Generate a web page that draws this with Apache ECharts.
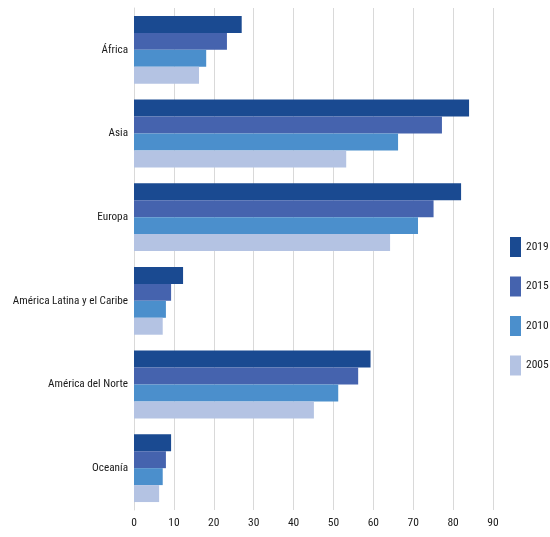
<!DOCTYPE html>
<html>
<head>
<meta charset="utf-8">
<script src="https://cdn.jsdelivr.net/npm/echarts@6/dist/echarts.min.js"></script>
<style>
  html, body { margin: 0; padding: 0; background: #ffffff; }
  #chart { width: 550px; height: 537px; }
</style>
</head>
<body>
<div id="chart"></div>
<script>
// Regions listed top to bottom
const regions = ['África', 'Asia', 'Europa', 'América Latina y el Caribe', 'América del Norte', 'Oceanía'];
const years = ['2019', '2015', '2010', '2005'];
const values2019 = [27, 84, 82, 12.3, 59.3, 9.3];
const values2015 = [23.3, 77.2, 75.1, 9.3, 56.2, 8.0];
const values2010 = [18.1, 66.2, 71.2, 8.0, 51.2, 7.2];
const values2005 = [16.3, 53.2, 64.2, 7.2, 45.1, 6.3];
const xTicks = [0, 10, 20, 30, 40, 50, 60, 70, 80, 90];

const seriesValues = [values2019, values2015, values2010, values2005];
const colors = ['#1a4a91', '#4563ae', '#4b8fcc', '#b4c3e3'];
const fontFamily = '"Roboto Condensed", "Liberation Sans Narrow", sans-serif';

const chart = echarts.init(document.getElementById('chart'));
chart.setOption({
  animation: false,
  textStyle: { fontFamily: fontFamily },
  grid: {
    left: 134, right: 57, top: 8, bottom: 27,
    containLabel: false,
    outerBoundsMode: 'none'
  },
  legend: {
    orient: 'vertical',
    left: 510,
    top: 237,
    padding: 0,
    itemWidth: 11,
    itemHeight: 20,
    itemGap: 19.5,
    itemTextGap: 4,
    icon: 'rect',
    data: years,
    textStyle: { fontFamily: fontFamily, fontSize: 11.5, color: '#1a1a1a' }
  },
  xAxis: {
    type: 'value',
    min: xTicks[0],
    max: xTicks[xTicks.length - 1],
    interval: 10,
    axisLine: { show: false },
    axisTick: { show: false },
    axisLabel: { fontFamily: fontFamily, fontSize: 11.5, color: '#1a1a1a', margin: 7 },
    splitLine: { lineStyle: { color: '#d9d9d9', width: 1 } }
  },
  yAxis: {
    type: 'category',
    inverse: true,
    data: regions,
    axisLine: { show: true, lineStyle: { color: '#d9d9d9' } },
    axisTick: { show: false },
    axisLabel: { fontFamily: fontFamily, fontSize: 11.2, color: '#1a1a1a', margin: 6 }
  },
  series: years.map((y, i) => ({
    name: y,
    type: 'bar',
    data: seriesValues[i],
    barGap: '0%',
    barCategoryGap: '19%',
    itemStyle: { color: colors[i] }
  }))
});
</script>
</body>
</html>
